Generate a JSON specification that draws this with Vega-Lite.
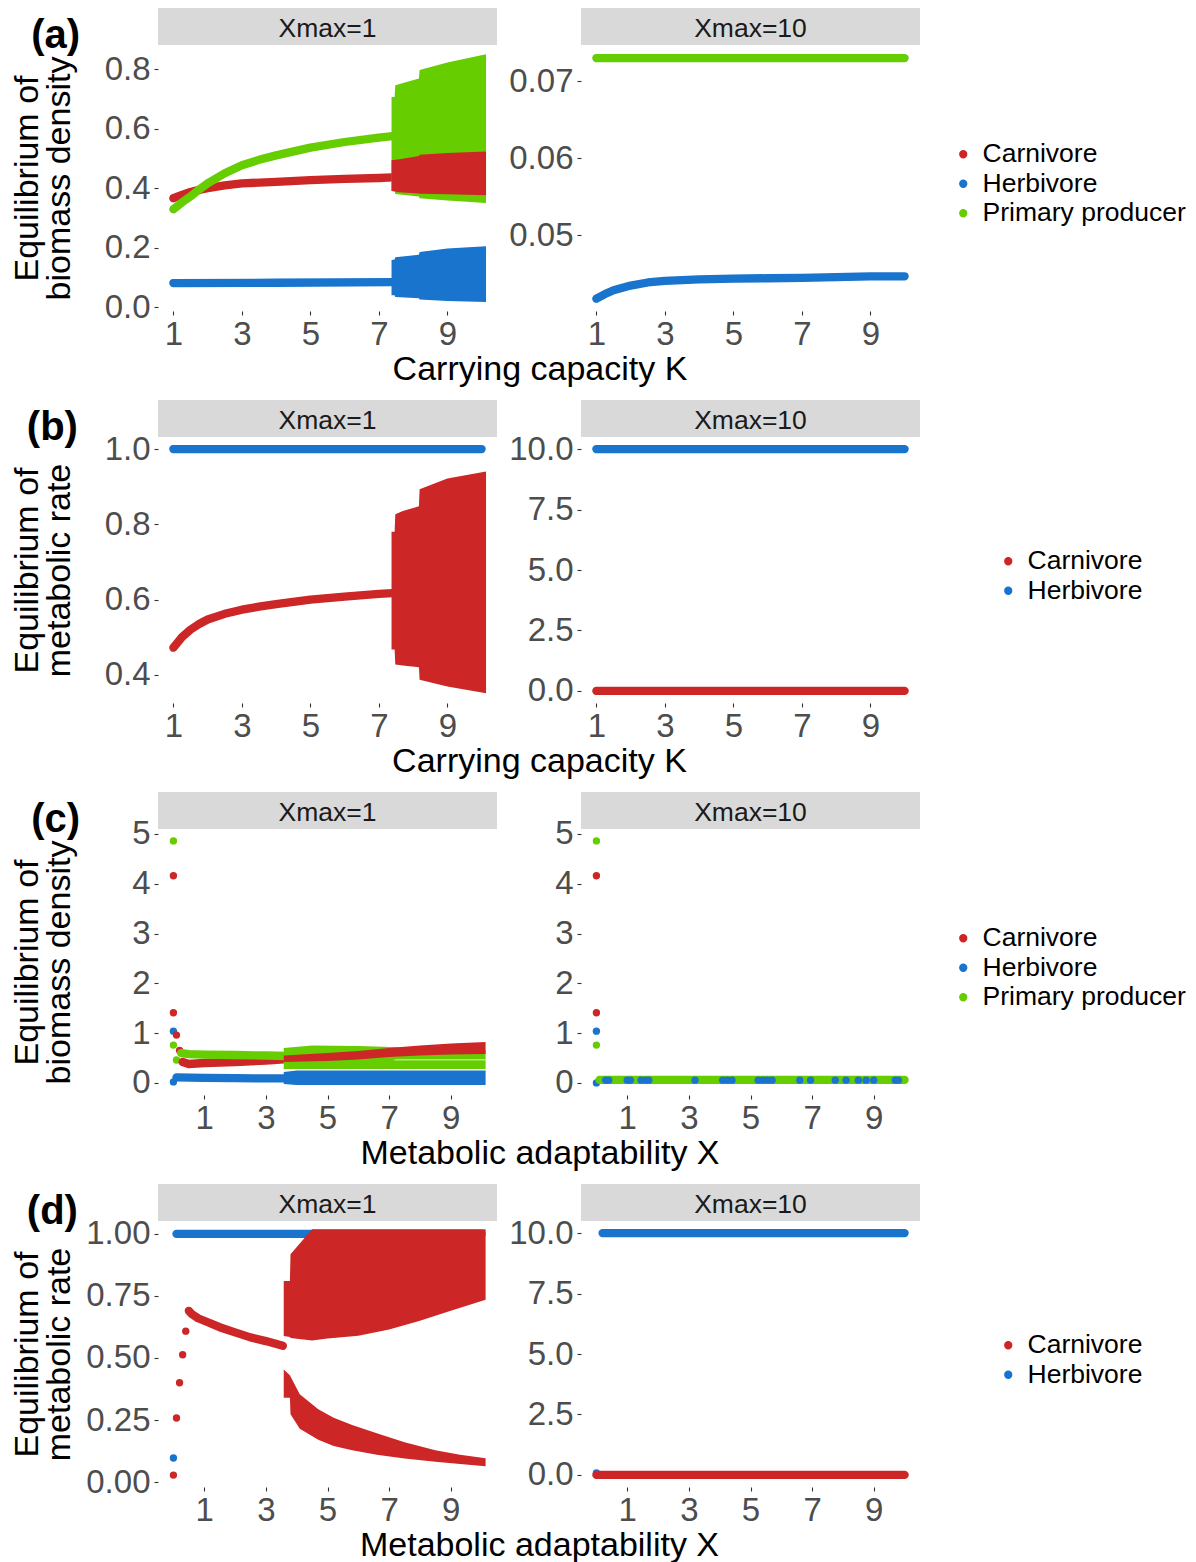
{
"$schema":"https://vega.github.io/schema/vega-lite/v6.json",
"padding":{"left":10,"top":8,"right":4,"bottom":2},
"config":{
 "font":"Liberation Sans",
 "view":{"stroke":null},
 "axis":{"grid":false,"domain":false,"tickColor":"#333333","tickSize":4,"tickWidth":1.1,"labelFontSize":33,"labelColor":"#4D4D4D","titleFontSize":34,"titleFontWeight":"normal","titleColor":"#000000","labelFlush":false,"labelOverlap":false,"titleLineHeight":32,"titlePadding":6},
 "axisX":{"labelPadding":3},
 "axisY":{"labelPadding":4},
 "legend":{"labelFontSize":26.5,"labelColor":"#000000","labelLimit":400,"symbolSize":46,"rowPadding":2.5,"labelOffset":6,"padding":0,"symbolType":"circle"},
 "title":{"fontSize":34,"fontWeight":"normal","color":"#000000"}
},
"datasets":{
 "aL_pt":[{"s":"Herbivore","x":1,"y":0.081},{"s":"Carnivore","x":1,"y":0.366},{"s":"Primary producer","x":1,"y":0.329}],
 "aL_line":[
  {"s":"Herbivore","x":1,"y":0.081},{"s":"Herbivore","x":4,"y":0.082},{"s":"Herbivore","x":7.4,"y":0.084},
  {"s":"Carnivore","x":1,"y":0.366},{"s":"Carnivore","x":1.25,"y":0.377},{"s":"Carnivore","x":1.5,"y":0.387},{"s":"Carnivore","x":1.75,"y":0.394},{"s":"Carnivore","x":2,"y":0.4},{"s":"Carnivore","x":2.5,"y":0.409},{"s":"Carnivore","x":3,"y":0.416},{"s":"Carnivore","x":4,"y":0.421},{"s":"Carnivore","x":5,"y":0.427},{"s":"Carnivore","x":6,"y":0.431},{"s":"Carnivore","x":7,"y":0.434},{"s":"Carnivore","x":7.4,"y":0.436},
  {"s":"Primary producer","x":1,"y":0.329},{"s":"Primary producer","x":1.25,"y":0.352},{"s":"Primary producer","x":1.5,"y":0.372},{"s":"Primary producer","x":1.75,"y":0.395},{"s":"Primary producer","x":2,"y":0.416},{"s":"Primary producer","x":2.5,"y":0.45},{"s":"Primary producer","x":3,"y":0.477},{"s":"Primary producer","x":3.5,"y":0.495},{"s":"Primary producer","x":4,"y":0.51},{"s":"Primary producer","x":5,"y":0.536},{"s":"Primary producer","x":6,"y":0.555},{"s":"Primary producer","x":7,"y":0.57},{"s":"Primary producer","x":7.4,"y":0.575}
 ],
 "aL_band":[
  {"g":"P","s":"Primary producer","x":7.37,"y":0.39,"hi":0.706},{"g":"P","s":"Primary producer","x":7.46,"y":0.39,"hi":0.706},{"g":"P","s":"Primary producer","x":7.48,"y":0.38,"hi":0.746},{"g":"P","s":"Primary producer","x":8.17,"y":0.372,"hi":0.768},{"g":"P","s":"Primary producer","x":8.19,"y":0.366,"hi":0.797},{"g":"P","s":"Primary producer","x":9,"y":0.358,"hi":0.822},{"g":"P","s":"Primary producer","x":10.13,"y":0.35,"hi":0.85},
  {"g":"C","s":"Carnivore","x":7.37,"y":0.39,"hi":0.494},{"g":"C","s":"Carnivore","x":7.6,"y":0.386,"hi":0.497},{"g":"C","s":"Carnivore","x":8.17,"y":0.382,"hi":0.508},{"g":"C","s":"Carnivore","x":8.19,"y":0.381,"hi":0.512},{"g":"C","s":"Carnivore","x":9,"y":0.379,"hi":0.518},{"g":"C","s":"Carnivore","x":10.13,"y":0.376,"hi":0.523},
  {"g":"H","s":"Herbivore","x":7.37,"y":0.04,"hi":0.158},{"g":"H","s":"Herbivore","x":7.46,"y":0.04,"hi":0.16},{"g":"H","s":"Herbivore","x":7.48,"y":0.034,"hi":0.168},{"g":"H","s":"Herbivore","x":8.17,"y":0.03,"hi":0.176},{"g":"H","s":"Herbivore","x":8.19,"y":0.026,"hi":0.185},{"g":"H","s":"Herbivore","x":9,"y":0.021,"hi":0.197},{"g":"H","s":"Herbivore","x":10.13,"y":0.017,"hi":0.205}
 ],
 "aR_pt":[{"s":"Herbivore","x":1,"y":0.0418},{"s":"Primary producer","x":1,"y":0.073}],
 "aR_line":[
  {"s":"Herbivore","x":1,"y":0.0418},{"s":"Herbivore","x":1.25,"y":0.0424},{"s":"Herbivore","x":1.5,"y":0.0429},{"s":"Herbivore","x":2,"y":0.0435},{"s":"Herbivore","x":2.5,"y":0.0439},{"s":"Herbivore","x":3,"y":0.0441},{"s":"Herbivore","x":4,"y":0.0443},{"s":"Herbivore","x":5,"y":0.0444},{"s":"Herbivore","x":6,"y":0.04445},{"s":"Herbivore","x":7,"y":0.0445},{"s":"Herbivore","x":8,"y":0.0446},{"s":"Herbivore","x":9,"y":0.0447},{"s":"Herbivore","x":10,"y":0.0447},
  {"s":"Primary producer","x":1,"y":0.073},{"s":"Primary producer","x":10,"y":0.073}
 ],
 "bL_pt":[{"s":"Herbivore","x":1,"y":1},{"s":"Carnivore","x":1,"y":0.472}],
 "bL_line":[
  {"s":"Herbivore","x":1,"y":1},{"s":"Herbivore","x":10,"y":1},
  {"s":"Carnivore","x":1,"y":0.472},{"s":"Carnivore","x":1.25,"y":0.5},{"s":"Carnivore","x":1.5,"y":0.52},{"s":"Carnivore","x":1.75,"y":0.535},{"s":"Carnivore","x":2,"y":0.547},{"s":"Carnivore","x":2.5,"y":0.562},{"s":"Carnivore","x":3,"y":0.573},{"s":"Carnivore","x":3.5,"y":0.581},{"s":"Carnivore","x":4,"y":0.588},{"s":"Carnivore","x":5,"y":0.6},{"s":"Carnivore","x":6,"y":0.608},{"s":"Carnivore","x":7,"y":0.615},{"s":"Carnivore","x":7.4,"y":0.617}
 ],
 "bL_band":[
  {"g":"C","s":"Carnivore","x":7.37,"y":0.467,"hi":0.78},{"g":"C","s":"Carnivore","x":7.46,"y":0.467,"hi":0.78},{"g":"C","s":"Carnivore","x":7.48,"y":0.427,"hi":0.827},{"g":"C","s":"Carnivore","x":7.7,"y":0.425,"hi":0.835},{"g":"C","s":"Carnivore","x":8.17,"y":0.42,"hi":0.848},{"g":"C","s":"Carnivore","x":8.19,"y":0.387,"hi":0.893},{"g":"C","s":"Carnivore","x":9,"y":0.369,"hi":0.922},{"g":"C","s":"Carnivore","x":10.13,"y":0.351,"hi":0.94}
 ],
 "bR_pt":[{"s":"Herbivore","x":1,"y":10},{"s":"Carnivore","x":1,"y":0}],
 "bR_line":[{"s":"Herbivore","x":1,"y":10},{"s":"Herbivore","x":10,"y":10},{"s":"Carnivore","x":1,"y":0},{"s":"Carnivore","x":10,"y":0}],
 "cL_pt":[{"s":"Herbivore","x":0,"y":1.04},{"s":"Herbivore","x":0,"y":0.02},{"s":"Carnivore","x":0,"y":4.16},{"s":"Carnivore","x":0,"y":1.41},{"s":"Carnivore","x":0.1,"y":0.96},{"s":"Carnivore","x":0.2,"y":0.65},{"s":"Primary producer","x":0,"y":4.86},{"s":"Primary producer","x":0,"y":0.76},{"s":"Primary producer","x":0.1,"y":0.46}],
 "cL_line":[
  {"s":"Herbivore","x":0.1,"y":0.11},{"s":"Herbivore","x":1,"y":0.1},{"s":"Herbivore","x":2,"y":0.095},{"s":"Herbivore","x":3,"y":0.09},{"s":"Herbivore","x":3.7,"y":0.09},
  {"s":"Carnivore","x":0.3,"y":0.42},{"s":"Carnivore","x":0.5,"y":0.38},{"s":"Carnivore","x":1,"y":0.4},{"s":"Carnivore","x":2,"y":0.42},{"s":"Carnivore","x":3,"y":0.45},{"s":"Carnivore","x":3.7,"y":0.48},
  {"s":"Primary producer","x":0.25,"y":0.6},{"s":"Primary producer","x":0.5,"y":0.58},{"s":"Primary producer","x":1,"y":0.57},{"s":"Primary producer","x":2,"y":0.56},{"s":"Primary producer","x":3,"y":0.55},{"s":"Primary producer","x":3.7,"y":0.54}
 ],
 "cL_band":[
  {"g":"P1","s":"Primary producer","x":3.58,"y":0.44,"hi":0.7},{"g":"P1","s":"Primary producer","x":4.5,"y":0.44,"hi":0.75},{"g":"P1","s":"Primary producer","x":6,"y":0.44,"hi":0.74},{"g":"P1","s":"Primary producer","x":7.1,"y":0.44,"hi":0.72},{"g":"P1","s":"Primary producer","x":7.2,"y":0.47,"hi":0.72},{"g":"P1","s":"Primary producer","x":10.13,"y":0.47,"hi":0.66},
  {"g":"P2","s":"Primary producer","x":3.58,"y":0.28,"hi":0.455},{"g":"P2","s":"Primary producer","x":10.13,"y":0.28,"hi":0.455},
  {"g":"C","s":"Carnivore","x":3.58,"y":0.42,"hi":0.55},{"g":"C","s":"Carnivore","x":5,"y":0.44,"hi":0.6},{"g":"C","s":"Carnivore","x":6,"y":0.47,"hi":0.64},{"g":"C","s":"Carnivore","x":7,"y":0.52,"hi":0.7},{"g":"C","s":"Carnivore","x":8,"y":0.55,"hi":0.75},{"g":"C","s":"Carnivore","x":9,"y":0.57,"hi":0.79},{"g":"C","s":"Carnivore","x":10.13,"y":0.58,"hi":0.82},
  {"g":"H","s":"Herbivore","x":3.58,"y":-0.02,"hi":0.22},{"g":"H","s":"Herbivore","x":4,"y":-0.04,"hi":0.25},{"g":"H","s":"Herbivore","x":10.13,"y":-0.04,"hi":0.25}
 ],
 "cR_pt":[{"s":"Carnivore","x":0,"y":4.16},{"s":"Carnivore","x":0,"y":1.41},{"s":"Herbivore","x":0,"y":1.04},{"s":"Herbivore","x":0,"y":0},{"s":"Primary producer","x":0,"y":4.86},{"s":"Primary producer","x":0,"y":0.76}],
 "cR_line":[{"s":"Primary producer","x":0.1,"y":0.06},{"s":"Primary producer","x":10,"y":0.06}],
 "cR_pt2":[{"s":"Herbivore","x":0.3,"y":0.055},{"s":"Herbivore","x":0.4,"y":0.055},{"s":"Herbivore","x":1,"y":0.055},{"s":"Herbivore","x":1.1,"y":0.055},{"s":"Herbivore","x":1.45,"y":0.055},{"s":"Herbivore","x":1.6,"y":0.055},{"s":"Herbivore","x":1.7,"y":0.055},{"s":"Herbivore","x":3.2,"y":0.055},{"s":"Herbivore","x":4.1,"y":0.055},{"s":"Herbivore","x":4.25,"y":0.055},{"s":"Herbivore","x":4.4,"y":0.055},{"s":"Herbivore","x":5.25,"y":0.055},{"s":"Herbivore","x":5.4,"y":0.055},{"s":"Herbivore","x":5.55,"y":0.055},{"s":"Herbivore","x":5.7,"y":0.055},{"s":"Herbivore","x":6.6,"y":0.055},{"s":"Herbivore","x":6.95,"y":0.055},{"s":"Herbivore","x":7.75,"y":0.055},{"s":"Herbivore","x":8.1,"y":0.055},{"s":"Herbivore","x":8.5,"y":0.055},{"s":"Herbivore","x":8.75,"y":0.055},{"s":"Herbivore","x":9,"y":0.055},{"s":"Herbivore","x":9.7,"y":0.055},{"s":"Herbivore","x":9.8,"y":0.055}],
 "dL_pt":[{"s":"Herbivore","x":0,"y":0.097},{"s":"Carnivore","x":0,"y":0.028},{"s":"Carnivore","x":0.1,"y":0.258},{"s":"Carnivore","x":0.2,"y":0.4},{"s":"Carnivore","x":0.3,"y":0.513},{"s":"Carnivore","x":0.4,"y":0.608}],
 "dL_line":[
  {"s":"Herbivore","x":0.1,"y":1},{"s":"Herbivore","x":10,"y":1},
  {"s":"Carnivore","x":0.5,"y":0.69},{"s":"Carnivore","x":0.6,"y":0.677},{"s":"Carnivore","x":0.8,"y":0.66},{"s":"Carnivore","x":1,"y":0.65},{"s":"Carnivore","x":1.5,"y":0.624},{"s":"Carnivore","x":2,"y":0.603},{"s":"Carnivore","x":2.5,"y":0.583},{"s":"Carnivore","x":3,"y":0.568},{"s":"Carnivore","x":3.55,"y":0.549}
 ],
 "dL_band":[
  {"g":"U","s":"Carnivore","x":3.58,"y":0.589,"hi":0.81},{"g":"U","s":"Carnivore","x":3.78,"y":0.585,"hi":0.81},{"g":"U","s":"Carnivore","x":3.8,"y":0.58,"hi":0.918},{"g":"U","s":"Carnivore","x":4.5,"y":0.57,"hi":1.019},{"g":"U","s":"Carnivore","x":5,"y":0.578,"hi":1.019},{"g":"U","s":"Carnivore","x":6,"y":0.59,"hi":1.019},{"g":"U","s":"Carnivore","x":7,"y":0.615,"hi":1.019},{"g":"U","s":"Carnivore","x":8,"y":0.65,"hi":1.019},{"g":"U","s":"Carnivore","x":9,"y":0.69,"hi":1.019},{"g":"U","s":"Carnivore","x":10.13,"y":0.735,"hi":1.019},
  {"g":"L","s":"Carnivore","x":3.58,"y":0.34,"hi":0.454},{"g":"L","s":"Carnivore","x":3.78,"y":0.34,"hi":0.43},{"g":"L","s":"Carnivore","x":3.8,"y":0.273,"hi":0.425},{"g":"L","s":"Carnivore","x":4.1,"y":0.215,"hi":0.354},{"g":"L","s":"Carnivore","x":4.7,"y":0.17,"hi":0.293},{"g":"L","s":"Carnivore","x":5.2,"y":0.145,"hi":0.259},{"g":"L","s":"Carnivore","x":5.8,"y":0.128,"hi":0.23},{"g":"L","s":"Carnivore","x":6.6,"y":0.11,"hi":0.197},{"g":"L","s":"Carnivore","x":7.5,"y":0.095,"hi":0.16},{"g":"L","s":"Carnivore","x":8.5,"y":0.082,"hi":0.128},{"g":"L","s":"Carnivore","x":9.3,"y":0.073,"hi":0.11},{"g":"L","s":"Carnivore","x":10.13,"y":0.064,"hi":0.096}
 ],
 "dR_pt":[{"s":"Herbivore","x":0,"y":0.08}],
 "dR_line":[{"s":"Herbivore","x":0.2,"y":10},{"s":"Herbivore","x":10,"y":10},{"s":"Carnivore","x":0,"y":0},{"s":"Carnivore","x":10,"y":0}]
},
"resolve":{"scale":{"color":"independent"}},
"spacing":13,
"vconcat":[
 {
  "title":{"text":"Carrying capacity K","orient":"bottom","anchor":"middle","offset":2,"dx":-58},
  "spacing":11,
  "hconcat":[
   {"spacing":0,"bounds":"flush","vconcat":[
    {"width":339,"height":37,"view":{"fill":"#D9D9D9","stroke":null},"title":{"text":"(a)","orient":"left","angle":0,"align":"right","baseline":"middle","anchor":"middle","offset":29,"dy":9,"fontSize":40,"fontWeight":"bold"},"data":{"values":[{"lab":"Xmax=1"}]},"mark":{"type":"text","fontSize":26.5,"color":"#1A1A1A","dy":2},"encoding":{"text":{"field":"lab","type":"nominal"}}},
    {"width":339,"height":266,
     "encoding":{
      "x":{"field":"x","type":"quantitative","scale":{"domain":[0.55,10.45],"nice":false,"zero":false},"axis":{"values":[1,3,5,7,9],"title":null}},
      "y":{"field":"y","type":"quantitative","scale":{"domain":[-0.013,0.881],"nice":false,"zero":false},"axis":{"values":[0,0.2,0.4,0.6,0.8],"format":".1f","title":["Equilibrium of","biomass density"],"minExtent":76,"maxExtent":76}},
      "color":{"field":"s","type":"nominal","scale":{"domain":["Carnivore","Herbivore","Primary producer"],"range":["#CD2626","#1874CD","#66CD00"]},"legend":{"title":null,"orient":"none","legendX":792,"legendY":133}}
     },
     "layer":[
      {"data":{"name":"aL_pt"},"mark":{"type":"circle","size":54,"opacity":1}},
      {"data":{"name":"aL_line"},"mark":{"type":"line","strokeWidth":8.3,"strokeCap":"round","strokeJoin":"round"}},
      {"data":{"name":"aL_band"},"transform":[{"filter":"datum.g == 'P'"}],"mark":{"type":"area","opacity":1},"encoding":{"y2":{"field":"hi"}}},
      {"data":{"name":"aL_band"},"transform":[{"filter":"datum.g == 'C'"}],"mark":{"type":"area","opacity":1},"encoding":{"y2":{"field":"hi"}}},
      {"data":{"name":"aL_band"},"transform":[{"filter":"datum.g == 'H'"}],"mark":{"type":"area","opacity":1},"encoding":{"y2":{"field":"hi"}}}
     ]}
   ]},
   {"spacing":0,"bounds":"flush","vconcat":[
    {"width":339,"height":37,"view":{"fill":"#D9D9D9","stroke":null},"data":{"values":[{"lab":"Xmax=10"}]},"mark":{"type":"text","fontSize":26.5,"color":"#1A1A1A","dy":2},"encoding":{"text":{"field":"lab","type":"nominal"}}},
    {"width":339,"height":266,
     "encoding":{
      "x":{"field":"x","type":"quantitative","scale":{"domain":[0.55,10.45],"nice":false,"zero":false},"axis":{"values":[1,3,5,7,9],"title":null}},
      "y":{"field":"y","type":"quantitative","scale":{"domain":[0.0402,0.0747],"nice":false,"zero":false},"axis":{"values":[0.05,0.06,0.07],"format":".2f","title":null}},
      "color":{"field":"s","type":"nominal","scale":{"domain":["Carnivore","Herbivore","Primary producer"],"range":["#CD2626","#1874CD","#66CD00"]},"legend":{"title":null,"orient":"none","legendX":792,"legendY":133}}
     },
     "layer":[
      {"data":{"name":"aR_pt"},"mark":{"type":"circle","size":54,"opacity":1}},
      {"data":{"name":"aR_line"},"mark":{"type":"line","strokeWidth":8.3,"strokeCap":"round","strokeJoin":"round"}}
     ]}
   ]}
  ]
 },
 {
  "title":{"text":"Carrying capacity K","orient":"bottom","anchor":"middle","offset":2,"dx":-37},
  "spacing":11,
  "hconcat":[
   {"spacing":0,"bounds":"flush","vconcat":[
    {"width":339,"height":37,"view":{"fill":"#D9D9D9","stroke":null},"title":{"text":"(b)","orient":"left","angle":0,"align":"right","baseline":"middle","anchor":"middle","offset":29,"dy":9,"fontSize":40,"fontWeight":"bold"},"data":{"values":[{"lab":"Xmax=1"}]},"mark":{"type":"text","fontSize":26.5,"color":"#1A1A1A","dy":2},"encoding":{"text":{"field":"lab","type":"nominal"}}},
    {"width":339,"height":266,
     "encoding":{
      "x":{"field":"x","type":"quantitative","scale":{"domain":[0.55,10.45],"nice":false,"zero":false},"axis":{"values":[1,3,5,7,9],"title":null}},
      "y":{"field":"y","type":"quantitative","scale":{"domain":[0.325,1.032],"nice":false,"zero":false},"axis":{"values":[0.4,0.6,0.8,1.0],"format":".1f","title":["Equilibrium of","metabolic rate"],"minExtent":76,"maxExtent":76}},
      "color":{"field":"s","type":"nominal","scale":{"domain":["Carnivore","Herbivore"],"range":["#CD2626","#1874CD"]},"legend":{"title":null,"orient":"none","legendX":837,"legendY":148}}
     },
     "layer":[
      {"data":{"name":"bL_pt"},"mark":{"type":"circle","size":54,"opacity":1}},
      {"data":{"name":"bL_line"},"mark":{"type":"line","strokeWidth":8.3,"strokeCap":"round","strokeJoin":"round"}},
      {"data":{"name":"bL_band"},"mark":{"type":"area","opacity":1},"encoding":{"y2":{"field":"hi"}}}
     ]}
   ]},
   {"spacing":0,"bounds":"flush","vconcat":[
    {"width":339,"height":37,"view":{"fill":"#D9D9D9","stroke":null},"data":{"values":[{"lab":"Xmax=10"}]},"mark":{"type":"text","fontSize":26.5,"color":"#1A1A1A","dy":2},"encoding":{"text":{"field":"lab","type":"nominal"}}},
    {"width":339,"height":266,
     "encoding":{
      "x":{"field":"x","type":"quantitative","scale":{"domain":[0.55,10.45],"nice":false,"zero":false},"axis":{"values":[1,3,5,7,9],"title":null}},
      "y":{"field":"y","type":"quantitative","scale":{"domain":[-0.5,10.5],"nice":false,"zero":false},"axis":{"values":[0,2.5,5,7.5,10],"format":".1f","title":null}},
      "color":{"field":"s","type":"nominal","scale":{"domain":["Carnivore","Herbivore"],"range":["#CD2626","#1874CD"]},"legend":{"title":null,"orient":"none","legendX":837,"legendY":148}}
     },
     "layer":[
      {"data":{"name":"bR_pt"},"mark":{"type":"circle","size":54,"opacity":1}},
      {"data":{"name":"bR_line"},"mark":{"type":"line","strokeWidth":8.3,"strokeCap":"round","strokeJoin":"round"}}
     ]}
   ]}
  ]
 },
 {
  "title":{"text":"Metabolic adaptability X","orient":"bottom","anchor":"middle","offset":2,"dx":-58},
  "spacing":57,
  "hconcat":[
   {"spacing":0,"bounds":"flush","vconcat":[
    {"width":339,"height":37,"view":{"fill":"#D9D9D9","stroke":null},"title":{"text":"(c)","orient":"left","angle":0,"align":"right","baseline":"middle","anchor":"middle","offset":29,"dy":9,"fontSize":40,"fontWeight":"bold"},"data":{"values":[{"lab":"Xmax=1"}]},"mark":{"type":"text","fontSize":26.5,"color":"#1A1A1A","dy":2},"encoding":{"text":{"field":"lab","type":"nominal"}}},
    {"width":339,"height":266,
     "encoding":{
      "x":{"field":"x","type":"quantitative","scale":{"domain":[-0.5,10.5],"nice":false,"zero":false},"axis":{"values":[1,3,5,7,9],"title":null}},
      "y":{"field":"y","type":"quantitative","scale":{"domain":[-0.243,5.1],"nice":false,"zero":false},"axis":{"values":[0,1,2,3,4,5],"format":"d","title":["Equilibrium of","biomass density"],"minExtent":76,"maxExtent":76}},
      "color":{"field":"s","type":"nominal","scale":{"domain":["Carnivore","Herbivore","Primary producer"],"range":["#CD2626","#1874CD","#66CD00"]},"legend":{"title":null,"orient":"none","legendX":792,"legendY":133}}
     },
     "layer":[
      {"data":{"name":"cL_pt"},"mark":{"type":"circle","size":54,"opacity":1}},
      {"data":{"name":"cL_line"},"mark":{"type":"line","strokeWidth":8.3,"strokeCap":"round","strokeJoin":"round"}},
      {"data":{"name":"cL_band"},"transform":[{"filter":"datum.g == 'P1'"}],"mark":{"type":"area","opacity":1},"encoding":{"y2":{"field":"hi"}}},
      {"data":{"name":"cL_band"},"transform":[{"filter":"datum.g == 'P2'"}],"mark":{"type":"area","opacity":1},"encoding":{"y2":{"field":"hi"}}},
      {"data":{"name":"cL_band"},"transform":[{"filter":"datum.g == 'C'"}],"mark":{"type":"area","opacity":1},"encoding":{"y2":{"field":"hi"}}},
      {"data":{"name":"cL_band"},"transform":[{"filter":"datum.g == 'H'"}],"mark":{"type":"area","opacity":1},"encoding":{"y2":{"field":"hi"}}}
     ]}
   ]},
   {"spacing":0,"bounds":"flush","vconcat":[
    {"width":339,"height":37,"view":{"fill":"#D9D9D9","stroke":null},"data":{"values":[{"lab":"Xmax=10"}]},"mark":{"type":"text","fontSize":26.5,"color":"#1A1A1A","dy":2},"encoding":{"text":{"field":"lab","type":"nominal"}}},
    {"width":339,"height":266,
     "encoding":{
      "x":{"field":"x","type":"quantitative","scale":{"domain":[-0.5,10.5],"nice":false,"zero":false},"axis":{"values":[1,3,5,7,9],"title":null}},
      "y":{"field":"y","type":"quantitative","scale":{"domain":[-0.243,5.1],"nice":false,"zero":false},"axis":{"values":[0,1,2,3,4,5],"format":"d","title":null}},
      "color":{"field":"s","type":"nominal","scale":{"domain":["Carnivore","Herbivore","Primary producer"],"range":["#CD2626","#1874CD","#66CD00"]},"legend":{"title":null,"orient":"none","legendX":792,"legendY":133}}
     },
     "layer":[
      {"data":{"name":"cR_pt"},"mark":{"type":"circle","size":54,"opacity":1}},
      {"data":{"name":"cR_line"},"mark":{"type":"line","strokeWidth":8.3,"strokeCap":"round","strokeJoin":"round"}},
      {"data":{"name":"cR_pt2"},"mark":{"type":"circle","size":54,"opacity":1}}
     ]}
   ]}
  ]
 },
 {
  "title":{"text":"Metabolic adaptability X","orient":"bottom","anchor":"middle","offset":2,"dx":-37},
  "spacing":11,
  "hconcat":[
   {"spacing":0,"bounds":"flush","vconcat":[
    {"width":339,"height":37,"view":{"fill":"#D9D9D9","stroke":null},"title":{"text":"(d)","orient":"left","angle":0,"align":"right","baseline":"middle","anchor":"middle","offset":29,"dy":9,"fontSize":40,"fontWeight":"bold"},"data":{"values":[{"lab":"Xmax=1"}]},"mark":{"type":"text","fontSize":26.5,"color":"#1A1A1A","dy":2},"encoding":{"text":{"field":"lab","type":"nominal"}}},
    {"width":339,"height":266,
     "encoding":{
      "x":{"field":"x","type":"quantitative","scale":{"domain":[-0.5,10.5],"nice":false,"zero":false},"axis":{"values":[1,3,5,7,9],"title":null}},
      "y":{"field":"y","type":"quantitative","scale":{"domain":[-0.02,1.052],"nice":false,"zero":false},"axis":{"values":[0,0.25,0.5,0.75,1],"format":".2f","title":["Equilibrium of","metabolic rate"],"minExtent":76,"maxExtent":76}},
      "color":{"field":"s","type":"nominal","scale":{"domain":["Carnivore","Herbivore"],"range":["#CD2626","#1874CD"]},"legend":{"title":null,"orient":"none","legendX":837,"legendY":148}}
     },
     "layer":[
      {"data":{"name":"dL_pt"},"mark":{"type":"circle","size":54,"opacity":1}},
      {"data":{"name":"dL_line"},"mark":{"type":"line","strokeWidth":8.3,"strokeCap":"round","strokeJoin":"round"}},
      {"data":{"name":"dL_band"},"transform":[{"filter":"datum.g == 'U'"}],"mark":{"type":"area","opacity":1},"encoding":{"y2":{"field":"hi"}}},
      {"data":{"name":"dL_band"},"transform":[{"filter":"datum.g == 'L'"}],"mark":{"type":"area","opacity":1},"encoding":{"y2":{"field":"hi"}}}
     ]}
   ]},
   {"spacing":0,"bounds":"flush","vconcat":[
    {"width":339,"height":37,"view":{"fill":"#D9D9D9","stroke":null},"data":{"values":[{"lab":"Xmax=10"}]},"mark":{"type":"text","fontSize":26.5,"color":"#1A1A1A","dy":2},"encoding":{"text":{"field":"lab","type":"nominal"}}},
    {"width":339,"height":266,
     "encoding":{
      "x":{"field":"x","type":"quantitative","scale":{"domain":[-0.5,10.5],"nice":false,"zero":false},"axis":{"values":[1,3,5,7,9],"title":null}},
      "y":{"field":"y","type":"quantitative","scale":{"domain":[-0.5,10.5],"nice":false,"zero":false},"axis":{"values":[0,2.5,5,7.5,10],"format":".1f","title":null}},
      "color":{"field":"s","type":"nominal","scale":{"domain":["Carnivore","Herbivore"],"range":["#CD2626","#1874CD"]},"legend":{"title":null,"orient":"none","legendX":837,"legendY":148}}
     },
     "layer":[
      {"data":{"name":"dR_pt"},"mark":{"type":"circle","size":54,"opacity":1}},
      {"data":{"name":"dR_line"},"mark":{"type":"line","strokeWidth":8.3,"strokeCap":"round","strokeJoin":"round"}}
     ]}
   ]}
  ]
 }
]
}
